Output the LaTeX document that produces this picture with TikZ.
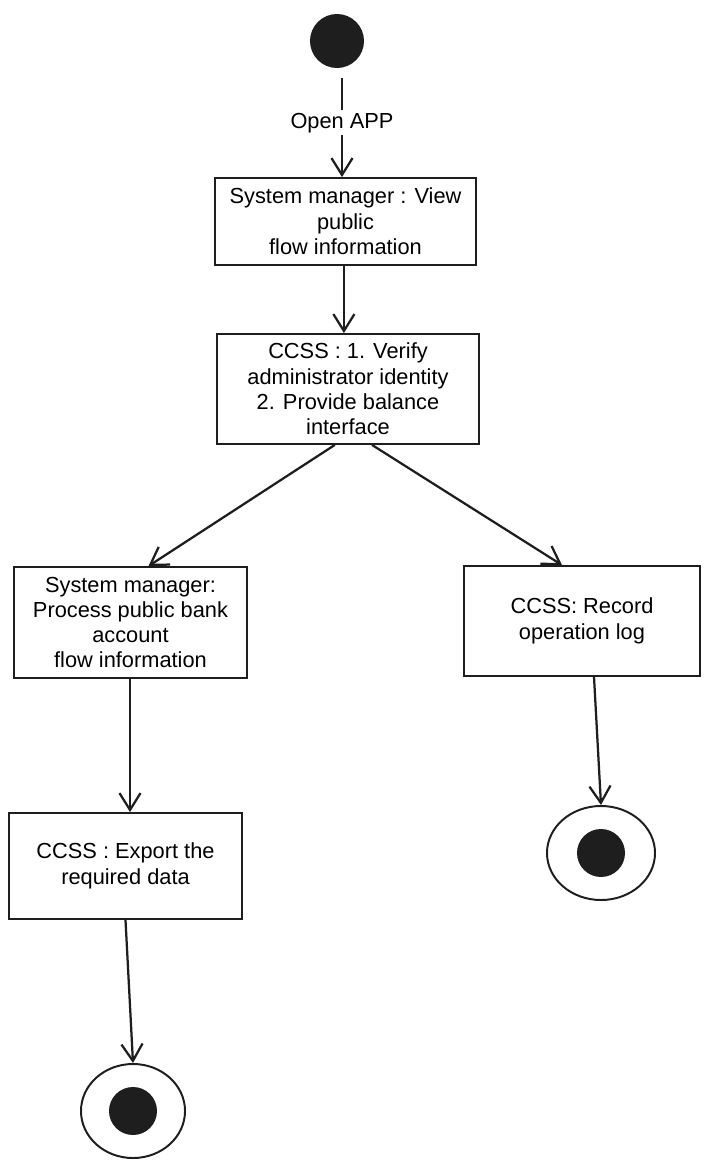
\documentclass[tikz,border=0pt]{standalone}
\usepackage{fontspec}
\setmainfont{Liberation Sans}
\usetikzlibrary{arrows.meta,shapes.geometric}
\definecolor{ink}{HTML}{1E1E1E}

\begin{document}
\begin{tikzpicture}[x=0.025cm, y=-0.025cm,
    actbox/.style={draw=ink, line width=1.3pt, align=center, inner sep=0pt,
        font=\fontsize{15.5}{18}\selectfont},
    flow/.style={draw=ink, line width=1.6pt, -{Straight Barb[length=12pt, width=15pt]}},
    finalring/.style={draw=ink, line width=1.4pt, ellipse, inner sep=0pt},
    dot/.style={fill=ink, circle, inner sep=0pt}]

    \useasboundingbox (0, 0) rectangle (709, 1169);

    % Initial node
    \node[dot, minimum size=1.35cm] (start) at (337, 41) {};

    % Activities
    \node[actbox, minimum width=6.525cm, minimum height=2.175cm] (viewinfo) at (345.5, 221.5)
        {System manager : View\\public\\flow information};
    \node[actbox, minimum width=6.55cm, minimum height=2.75cm] (verify) at (348, 389)
        {CCSS : 1. Verify\\administrator identity\\2. Provide balance\\interface};
    \node[actbox, minimum width=5.825cm, minimum height=2.775cm] (process) at (130.5, 622.5)
        {System manager:\\Process public bank\\account\\flow information};
    \node[actbox, minimum width=5.9cm, minimum height=2.75cm] (oplog) at (582, 621)
        {CCSS: Record\\operation log};
    \node[actbox, minimum width=5.825cm, minimum height=2.65cm] (export) at (125.5, 866)
        {CCSS : Export the\\required data};

    % Final nodes
    \node[finalring, minimum width=2.6cm, minimum height=2.35cm] (endleft) at (133, 1111) {};
    \node[dot, minimum size=1.2cm] at (endleft) {};
    \node[finalring, minimum width=2.7cm, minimum height=2.35cm] (endright) at (601, 853) {};
    \node[dot, minimum size=1.2cm] at (endright) {};

    % Flows
    \draw[flow, shorten <=7pt] ([xshift=0.125cm]start.south) -- ([xshift=0.125cm]viewinfo.north -| start)
        node[midway, fill=white, inner sep=2pt, font=\fontsize{15.5}{18}\selectfont] {Open APP};
    \draw[flow] ([xshift=-0.04cm]viewinfo.south) -- ([xshift=-0.04cm]viewinfo.south |- verify.north);
    \draw[flow] ([xshift=-0.33cm]verify.south) -- ([xshift=0.45cm]process.north);
    \draw[flow] ([xshift=0.6cm]verify.south) -- ([xshift=-0.5cm]oplog.north);
    \draw[flow] ([xshift=-0.0125cm]process.south) -- ([xshift=-0.0125cm]process.south |- export.north);
    \draw[flow] (export.south) -- (endleft.north);
    \draw[flow] ([xshift=0.3cm]oplog.south) -- (endright.north);

\end{tikzpicture}
\end{document}
